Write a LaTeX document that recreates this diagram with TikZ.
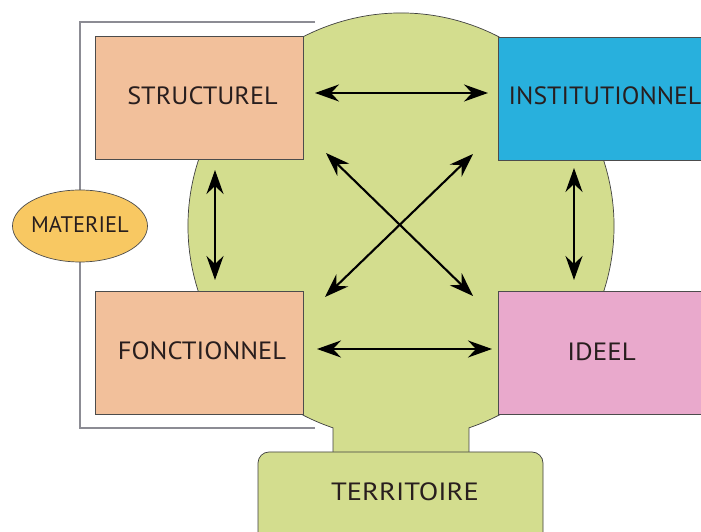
\documentclass[tikz,border=0pt]{standalone}
\usepackage{fontspec}
\setmainfont{PT Sans}
\usetikzlibrary{arrows.meta,shapes.geometric}
\definecolor{blobgreen}{RGB}{211,221,142}
\definecolor{boxorange}{RGB}{242,192,155}
\definecolor{boxblue}{RGB}{40,176,221}
\definecolor{boxpink}{RGB}{233,169,204}
\definecolor{ellyellow}{RGB}{248,200,98}
\definecolor{bracketgray}{RGB}{140,140,148}
\definecolor{txt}{RGB}{40,30,30}
\tikzset{
  box/.style={draw=black!70, line width=0.7pt, rectangle},
  lbl/.style={text=txt, font=\fontsize{25}{28}\selectfont, inner sep=0pt},
  arr/.style={line width=2.1pt, {Stealth[length=24pt,width=17pt,inset=8pt]}-{Stealth[length=24pt,width=17pt,inset=8pt]}},
}
\begin{document}
\begin{tikzpicture}[x=1pt,y=1pt]
\useasboundingbox (0,0) rectangle (701,532);
\clip (0,0) rectangle (701,532);
\fill[white] (0,0) rectangle (701,532);
% gray bracket
\draw[bracketgray, line width=1.8pt] (315,510) -- (80,510) -- (80,104) -- (315,104);
% green blob
\draw[fill=blobgreen, draw=black!75, line width=0.7pt]
  (401,306) ++(-71.4:213) arc[start angle=-71.4, end angle=251.4, radius=213]
  -- (333,70) -- (469,70) -- cycle;
% territoire
\draw[fill=blobgreen, draw=black!75, line width=0.7pt, rounded corners=11pt]
  (258,-20) rectangle (543,80);
\node[lbl] (T) at (405,40) {\scalebox{1.14}[1]{TERRITOIRE}};
% boxes
\draw[box, fill=boxorange] (95,373) rectangle (303,496);
\node[lbl] (S) at (202.5,436.5) {\scalebox{1.05}[1]{STRUCTUREL}};
\draw[box, fill=boxblue] (498,372) rectangle (710,495);
\node[lbl] (I) at (605,436.5) {\scalebox{1.03}[1]{INSTITUTIONNEL}};
\draw[box, fill=boxorange] (95,118) rectangle (303,241);
\node[lbl] (F) at (202,181.5) {\scalebox{1.06}[1]{FONCTIONNEL}};
\draw[box, fill=boxpink] (498,118) rectangle (710,241);
\node[lbl] (D) at (601.5,180) {\scalebox{1.08}[1]{IDEEL}};
% materiel
\node[ellipse, draw=black!70, line width=0.7pt, fill=ellyellow, minimum width=135pt, minimum height=72pt, inner sep=0pt] (M) at (80,306) {};
\node[lbl, font=\fontsize{22.5}{25}\selectfont] (Mt) at (80,307) {MATERIEL};
% arrow end points
\coordinate (h1a) at (315,439);
\coordinate (h1b) at (488,439);
\coordinate (h2a) at (317,183);
\coordinate (h2b) at (492,183);
\coordinate (v1a) at (215,362);
\coordinate (v1b) at (215,252);
\coordinate (v2a) at (574,364);
\coordinate (v2b) at (574,252);
\coordinate (d1a) at (326,379);
\coordinate (d1b) at (473,236);
\coordinate (d2a) at (473,378);
\coordinate (d2b) at (325,235);
\draw[arr] (h1a) -- (h1b);
\draw[arr] (h2a) -- (h2b);
\draw[arr] (v1a) -- (v1b);
\draw[arr] (v2a) -- (v2b);
\draw[arr] (d1a) -- (d1b);
\draw[arr] (d2a) -- (d2b);
\end{tikzpicture}
\end{document}
